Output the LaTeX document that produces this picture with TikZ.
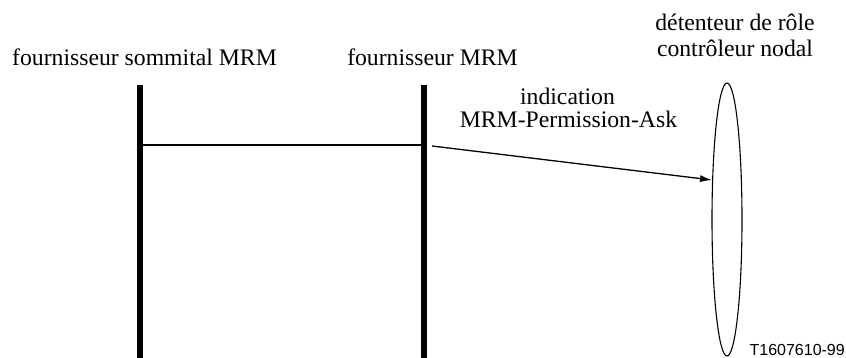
\documentclass[tikz,border=0pt]{standalone}
\usepackage{fontspec}
\setmainfont{Liberation Serif}
\newfontfamily\labelsans{Liberation Sans}
\usetikzlibrary{arrows.meta,shapes.geometric}
\begin{document}
\begin{tikzpicture}[x=1pt,y=-1pt,
  title/.style={font=\fontsize{23.7}{26}\selectfont, align=center, inner sep=0pt, anchor=base},
  lifeline/.style={line width=5.5pt},
  msg/.style={line width=1.3pt},
  role/.style={draw, ellipse, line width=1.1pt, minimum width=30pt, minimum height=273pt, inner sep=0pt}]
  \useasboundingbox (0,0) rectangle (846,358);

  % column headings
  \node[title] (hTop) at (144.5,66) {fournisseur sommital MRM};
  \node[title] (hMrm) at (432.5,66) {fournisseur MRM};
  \node[title] (hRole1) at (735,31) {détenteur de rôle};
  \node[title] (hRole2) at (735,57) {contrôleur nodal};

  % lifelines
  \coordinate (aTop) at (140,85);
  \coordinate (aBot) at (140,358);
  \coordinate (bTop) at (424,85);
  \coordinate (bBot) at (424,358);
  \draw[lifeline] (aTop) -- (aBot);
  \draw[lifeline] (bTop) -- (bBot);

  % role holder
  \node[role] (ell) at (727,219.5) {};

  % messages
  \coordinate (aMsg) at (140,145);
  \coordinate (bMsg) at (424,145);
  \coordinate (bOut) at (432,146);
  \coordinate (eIn) at (712,180);
  \draw[msg] (aMsg) -- (bMsg);
  \draw[msg, -{Latex[length=12pt,width=7pt]}] (bOut) -- (eIn);
  \node[title] (msgLbl1) at (567.5,105) {indication};
  \node[title] (msgLbl2) at (568.5,128) {MRM-Permission-Ask};

  % figure reference
  \node[font=\labelsans\fontsize{16}{18}\selectfont, anchor=base east, inner sep=0pt] (ref) at (845,355) {T1607610-99};
\end{tikzpicture}
\end{document}
